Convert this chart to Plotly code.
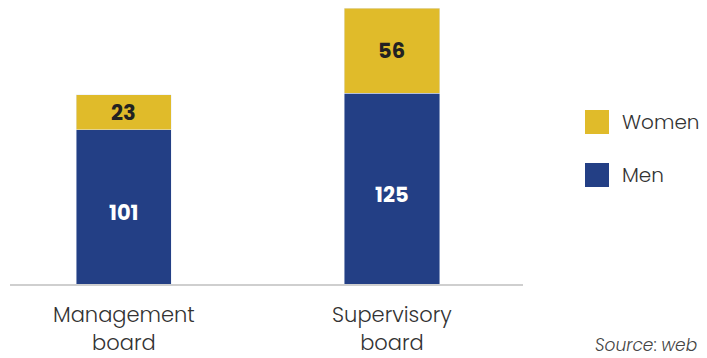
import plotly.graph_objects as go

# Board composition by gender
boards = ["Management<br>board", "Supervisory<br>board"]
men = [101, 125]
women = [23, 56]
series_names = ["Women", "Men"]

BLUE = "#233F85"
GOLD = "#E0BB2A"
FONT = "Poppins, Inter, sans-serif"

W, H = 707, 358
L, R, T, B = 10, 184, 8, 74

fig = go.Figure()
fig.add_trace(go.Bar(x=boards, y=men, name="Men", marker_color=BLUE, width=0.355,
                     showlegend=False, hoverinfo="skip"))
fig.add_trace(go.Bar(x=boards, y=women, name="Women", marker_color=GOLD, width=0.355,
                     showlegend=False, hoverinfo="skip"))

# Value labels inside each stacked segment
for b, m, w in zip(boards, men, women):
    fig.add_annotation(x=b, y=m / 2, text=str(m), showarrow=False, yshift=-6,
                       font=dict(family=FONT, size=21, color="white", weight="bold"))
    fig.add_annotation(x=b, y=m + w / 2, text=str(w), showarrow=False,
                       font=dict(family=FONT, size=21, color="#222222", weight="bold"))

# Legend drawn as squares + labels to the right of the plot area
plot_w, plot_h = W - L - R, H - T - B
def px_x(p):
    return (p - L) / plot_w
def px_y(p):
    return (H - B - p) / plot_h

legend_colors = {"Women": GOLD, "Men": BLUE}
legend_rows = {"Women": 122, "Men": 175}
for name in series_names:
    cy = legend_rows[name]
    fig.add_shape(type="rect", xref="paper", yref="paper",
                  x0=px_x(585), x1=px_x(609), y0=px_y(cy + 12), y1=px_y(cy - 12),
                  fillcolor=legend_colors[name], line_width=0)
    fig.add_annotation(xref="paper", yref="paper", x=px_x(620), y=px_y(cy),
                       text=name, showarrow=False, xanchor="left", yanchor="middle",
                       font=dict(family=FONT, size=20, color="#333333", weight=300))

fig.add_annotation(xref="paper", yref="paper", x=px_x(699), y=px_y(345),
                   text="<i>Source</i>: <i>web</i>", showarrow=False,
                   xanchor="right", yanchor="middle",
                   font=dict(family=FONT, size=17, color="#444444", weight=300))

fig.update_layout(
    barmode="stack",
    width=W, height=H,
    margin=dict(l=L, r=R, t=T, b=B, pad=0, autoexpand=False),
    paper_bgcolor="white", plot_bgcolor="white",
    font=dict(family=FONT, color="#333333"),
    xaxis=dict(type="category", range=[-0.425, 1.489], showgrid=False,
               showline=True, linecolor="#CFCFCF", linewidth=2,
               ticks="", ticklabelstandoff=11, automargin=False,
               tickfont=dict(family=FONT, size=21, color="#333333", weight=300)),
    yaxis=dict(range=[0, 181], visible=False, showgrid=False, automargin=False),
)

fig.write_html("out.html")
